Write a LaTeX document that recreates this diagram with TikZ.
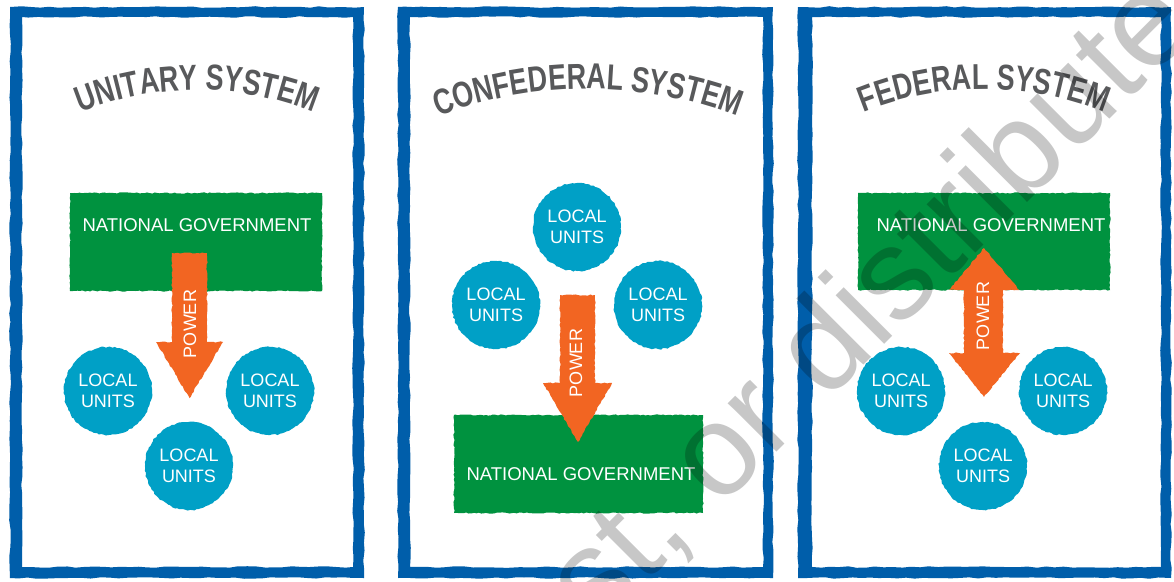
\documentclass[tikz,border=0pt]{standalone}
\usepackage{fontspec}
\setmainfont{Liberation Sans}
\newfontfamily\titlefont{Liberation Sans Bold}[FakeStretch=0.75]
\usetikzlibrary{decorations.text,decorations.pathmorphing}
\definecolor{bord}{RGB}{0,94,170}
\definecolor{gov}{RGB}{0,146,63}
\definecolor{pow}{RGB}{242,101,34}
\definecolor{unitc}{RGB}{0,160,198}
\definecolor{ttl}{RGB}{88,89,91}
\begin{document}
\begin{tikzpicture}[x=1pt,y=-1pt,
  rough/.style={decorate,decoration={random steps,segment length=2.5pt,amplitude=0.6pt}},
  border/.style={fill=bord,even odd rule,decorate,decoration={random steps,segment length=9pt,amplitude=0.8pt}},
  govbox/.style={rectangle,fill=gov,inner sep=0pt,rough},
  govtext/.style={text=white,font=\fontsize{18.5}{21}\selectfont,inner sep=0pt},
  unit/.style={circle,fill=unitc,minimum size=88pt,inner sep=0pt,text=white,align=center,
    font=\fontsize{18}{21}\selectfont,decorate,decoration={random steps,segment length=2.5pt,amplitude=0.7pt}},
  powshape/.style={fill=pow,rough},
  powtext/.style={text=white,font=\fontsize{18}{21}\selectfont,inner sep=0pt,rotate=90},
  ttlpath/.style={decorate,decoration={text along path,text align=center,text color=ttl,
    text={|\titlefont\fontsize{36}{36}\selectfont|#1}}},
]
\pgfmathsetseed{7}
\useasboundingbox (0,0) rectangle (1174,581);
\clip (0,0) rectangle (1174,581);
\fill[white] (0,0) rectangle (1174,581);

% ---------- borders ----------
\path[border] (10,7) rectangle (364,578) (22,17) rectangle (353,567);
\path[border] (398,7) rectangle (773,578) (410,17) rectangle (763,567);
\path[border] (798,7) rectangle (1171,578) (812,17) rectangle (1161,567);

% ---------- titles ----------
\path[ttlpath={UNITARY SYSTEM}] (197,400) ++(130:310pt) arc[start angle=130,end angle=50,radius=310pt];
\path[ttlpath={CONFEDERAL SYSTEM}] (588,509) ++(125:420pt) arc[start angle=125,end angle=55,radius=420pt];
\path[ttlpath={FEDERAL SYSTEM}] (984,409) ++(130:320pt) arc[start angle=130,end angle=50,radius=320pt];

% ---------- panel 1: unitary ----------
\node[govbox,minimum width=252pt,minimum height=98pt] (g1) at (196,242) {};
\node[govtext] (g1t) at (197,225) {NATIONAL GOVERNMENT};
\path[powshape] (172,253) -- (172,342) -- (156,342) -- (189.5,398) -- (223,342) -- (207,342) -- (207,253) -- cycle;
\node[powtext] (p1) at (190,324) {POWER};
\node[unit] (u1a) at (108,391) {LOCAL\\UNITS};
\node[unit] (u1b) at (270,391) {LOCAL\\UNITS};
\node[unit] (u1c) at (189,466) {LOCAL\\UNITS};

% ---------- panel 2: confederal ----------
\node[unit] (u2a) at (577,227) {LOCAL\\UNITS};
\node[unit] (u2b) at (496,305) {LOCAL\\UNITS};
\node[unit] (u2c) at (658,305) {LOCAL\\UNITS};
\node[govbox,minimum width=249pt,minimum height=98pt] (g2) at (578.5,464) {};
\node[govtext] (g2t) at (581,474) {NATIONAL GOVERNMENT};
\path[powshape] (560,295) -- (560,383) -- (543,383) -- (578,442) -- (612,383) -- (595,383) -- (595,295) -- cycle;
\node[powtext] (p2) at (576,363) {POWER};

% ---------- panel 3: federal ----------
\node[govbox,minimum width=252pt,minimum height=97pt] (g3) at (984,241.5) {};
\node[govtext] (g3t) at (991,225) {NATIONAL GOVERNMENT};
\path[powshape] (984,248) -- (1019,290) -- (1003,290) -- (1003,353) -- (1020,353) -- (984,397) -- (949,353) -- (964,353) -- (964,290) -- (949,290) -- cycle;
\node[powtext] (p3) at (983,316) {POWER};
\node[unit] (u3a) at (901,391) {LOCAL\\UNITS};
\node[unit] (u3b) at (1063,391) {LOCAL\\UNITS};
\node[unit] (u3c) at (983,466) {LOCAL\\UNITS};

% ---------- watermark ----------
\node[rotate=45,anchor=base west,inner sep=0pt,text=black,text opacity=0.22,
  font=\fontsize{130}{130}\selectfont] (wm) at (597,632) {st, or distribute};
\end{tikzpicture}
\end{document}
